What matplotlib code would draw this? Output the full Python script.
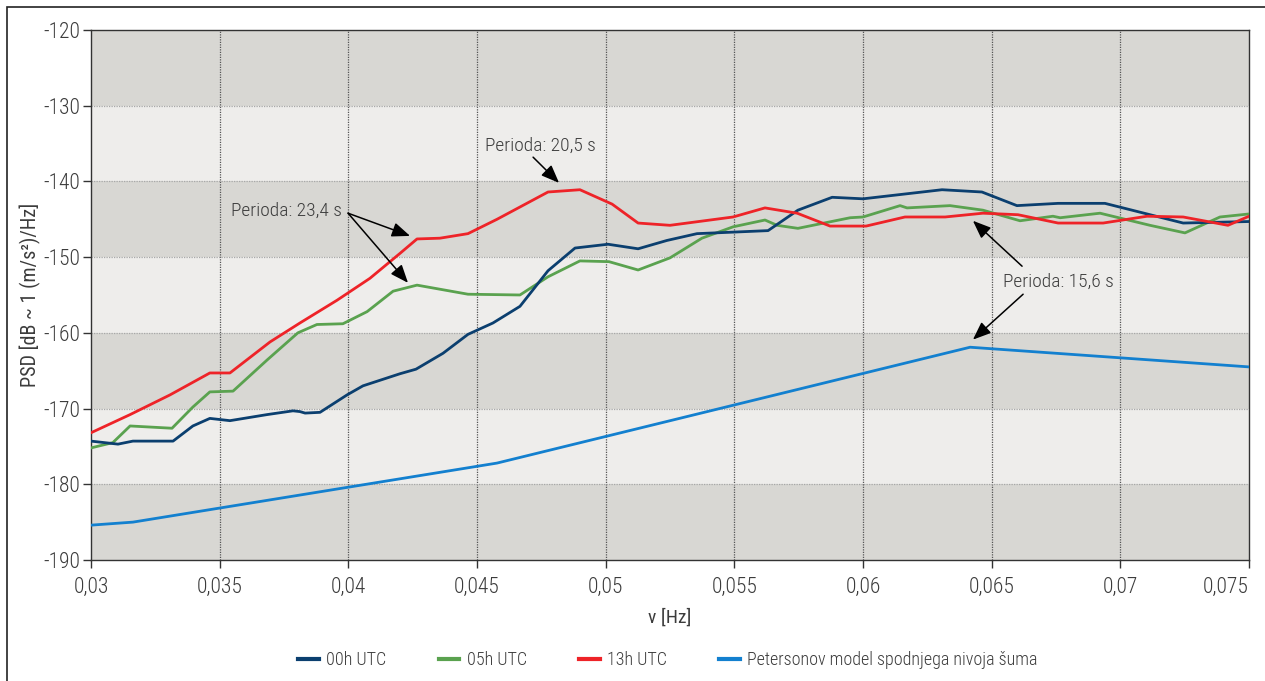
import matplotlib
matplotlib.use("Agg")
import matplotlib.pyplot as plt
from matplotlib.lines import Line2D
from matplotlib.patches import Rectangle

plt.rcParams["font.family"] = ["Roboto Condensed", "Roboto", "DejaVu Sans"]
plt.rcParams["font.weight"] = "light"

# PSD curves (frequency in Hz, PSD in dB)
f_00h = [0.0300, 0.03105, 0.03163, 0.03319, 0.03396, 0.03462, 0.03540, 0.03684, 0.03785,
         0.03812, 0.03832, 0.03890, 0.03995, 0.04057, 0.04201, 0.04263, 0.04368, 0.04465,
         0.04562, 0.04667, 0.04776, 0.04881, 0.05009, 0.05126, 0.05238, 0.05355, 0.05495,
         0.05631, 0.05747, 0.05880, 0.06000, 0.06307, 0.06462, 0.06598, 0.06758, 0.06940,
         0.07244, 0.0750]
psd_00h = [-174.3, -174.7, -174.3, -174.3, -172.3, -171.3, -171.6, -170.8, -170.3,
           -170.4, -170.6, -170.5, -168.2, -167.0, -165.4, -164.8, -162.7, -160.2,
           -158.7, -156.5, -151.8, -148.8, -148.3, -148.9, -147.8, -146.9, -146.7,
           -146.5, -143.8, -142.1, -142.3, -141.1, -141.4, -143.2, -142.9, -142.9,
           -145.5, -145.3]

f_05h = [0.0300, 0.03085, 0.03152, 0.03315, 0.03396, 0.03462, 0.03552, 0.03684, 0.03804,
         0.03878, 0.03979, 0.04073, 0.04174, 0.04267, 0.04465, 0.04667, 0.04776, 0.04900,
         0.05013, 0.05126, 0.05250, 0.05374, 0.05495, 0.05619, 0.05666, 0.05747, 0.05950,
         0.06000, 0.06144, 0.06171, 0.06338, 0.06466, 0.06610, 0.06738, 0.06766, 0.06921,
         0.07115, 0.07251, 0.07387, 0.0750]
psd_05h = [-175.2, -174.5, -172.3, -172.6, -169.8, -167.8, -167.7, -163.6, -160.0,
           -158.9, -158.8, -157.2, -154.5, -153.7, -154.9, -155.0, -152.6, -150.5,
           -150.6, -151.7, -150.1, -147.5, -146.0, -145.1, -145.8, -146.2, -144.8,
           -144.7, -143.2, -143.5, -143.2, -143.8, -145.2, -144.6, -144.8, -144.2,
           -145.8, -146.8, -144.7, -144.3]

f_13h = [0.0300, 0.03152, 0.03307, 0.03462, 0.03540, 0.03696, 0.03812, 0.03956, 0.04084,
         0.04201, 0.04267, 0.04356, 0.04465, 0.04578, 0.04776, 0.04900, 0.05025, 0.05126,
         0.05250, 0.05495, 0.05619, 0.05744, 0.05872, 0.06012, 0.06163, 0.06319, 0.06466,
         0.06602, 0.06758, 0.06933, 0.07104, 0.07244, 0.07418, 0.0750]
psd_13h = [-173.2, -170.8, -168.2, -165.3, -165.3, -161.2, -158.7, -155.7, -152.8,
           -149.5, -147.6, -147.5, -146.9, -145.0, -141.4, -141.1, -143.0, -145.5,
           -145.8, -144.7, -143.5, -144.2, -145.9, -145.9, -144.7, -144.7, -144.2,
           -144.4, -145.5, -145.5, -144.6, -144.7, -145.8, -144.6]

# Peterson low noise model
f_nlnm = [0.0300, 0.03163, 0.04578, 0.06416, 0.0750]
psd_nlnm = [-185.4, -185.0, -177.2, -161.9, -164.5]

labels = ["00h UTC", "05h UTC", "13h UTC", "Petersonov model spodnjega nivoja šuma"]
colors = ["#0b3f6f", "#5aa24f", "#ee2328", "#1380cf"]

x_ticks = [0.03, 0.035, 0.04, 0.045, 0.05, 0.055, 0.06, 0.065, 0.07, 0.075]
y_ticks = [-190, -180, -170, -160, -150, -140, -130, -120]

text_col = "#3c3c3c"

fig = plt.figure(figsize=(12.65, 6.81), dpi=100)
ax = fig.add_axes([0.0719, 0.1777, 0.9155, 0.7783])

# alternating horizontal bands
for i, lo in enumerate(range(-190, -120, 10)):
    shade = "#d8d7d3" if i % 2 == 0 else "#eeedeb"
    ax.axhspan(lo, lo + 10, color=shade, zorder=0, lw=0)

for xv in x_ticks[1:-1]:
    ax.axvline(xv, color="#555555", lw=0.9, ls=(0, (1, 1)), zorder=1)
for yv in y_ticks[1:-1]:
    ax.axhline(yv, color="#a8a8a8", lw=0.9, ls=(0, (1, 1)), zorder=1)

series = [(f_00h, psd_00h), (f_05h, psd_05h), (f_13h, psd_13h), (f_nlnm, psd_nlnm)]
draw_order = [3, 1, 0, 2]
for k in draw_order:
    fx, py = series[k]
    ax.plot(fx, py, color=colors[k], lw=2.0, zorder=3)

ax.set_xlim(0.03, 0.075)
ax.set_ylim(-190, -120)
ax.set_xticks(x_ticks)
ax.set_xticklabels([f"{v:g}".replace(".", ",") for v in x_ticks])
ax.get_xticklabels()[-1].set_horizontalalignment("right")
ax.set_yticks(y_ticks)
ax.set_yticklabels([str(v) for v in y_ticks])
ax.tick_params(axis="both", labelsize=15.5, colors="#333333", labelcolor=text_col,
               length=6, width=1, direction="out")
ax.tick_params(axis="x", pad=6)
ax.tick_params(axis="y", pad=2)
for s in ax.spines.values():
    s.set_color("#333333")
    s.set_linewidth(1.0)

ax.set_xlabel("v [Hz]", fontsize=14, color=text_col, labelpad=8)
ax.set_ylabel("PSD [dB ~ 1 (m/s²)/Hz]", fontsize=14.5, color=text_col)
ax.yaxis.set_label_coords(-0.043, 0.5)

# annotations
arrow_kw = dict(arrowstyle="-|>,head_length=0.55,head_width=0.22", color="black",
                lw=1.1, shrinkA=0, shrinkB=0, mutation_scale=20)
ax.text(0.04745, -135.3, "Perioda: 20,5 s", fontsize=14, color=text_col,
        ha="center", va="center")
ax.annotate("", xy=(0.04819, -140.2), xytext=(0.04718, -136.8), arrowprops=arrow_kw)

ax.text(0.03975, -143.9, "Perioda: 23,4 s", fontsize=14, color=text_col,
        ha="right", va="center")
ax.annotate("", xy=(0.04240, -147.2), xytext=(0.03999, -144.2), arrowprops=arrow_kw)
ax.annotate("", xy=(0.04232, -153.4), xytext=(0.03999, -144.2), arrowprops=arrow_kw)

ax.text(0.06758, -153.3, "Perioda: 15,6 s", fontsize=14, color=text_col,
        ha="center", va="center")
ax.annotate("", xy=(0.06427, -145.2), xytext=(0.06618, -151.2), arrowprops=arrow_kw)
ax.annotate("", xy=(0.06427, -160.9), xytext=(0.06622, -154.9), arrowprops=arrow_kw)

handles = [Line2D([], [], color=c, lw=3) for c in colors]
leg = fig.legend(handles, labels, loc="center", bbox_to_anchor=(0.528, 0.031), ncol=4,
                 frameon=False, fontsize=13, handlelength=1.15, handletextpad=0.4,
                 columnspacing=2.9)
for t in leg.get_texts():
    t.set_color(text_col)

# outer frame (left/top edges visible)
fig.patches.append(Rectangle((7 / 1265, -0.1), 1.2, 1.1 - 7 / 681, transform=fig.transFigure,
                             fill=False, ec="#222222", lw=1.2))

fig.savefig("out.png", dpi=100)
